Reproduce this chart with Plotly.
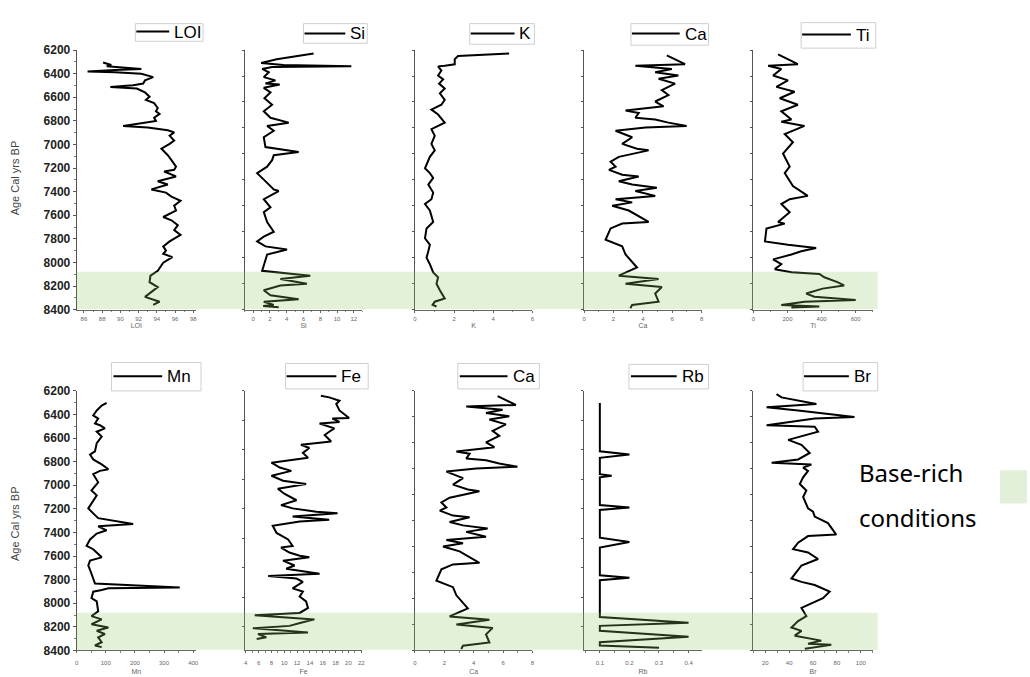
import plotly.graph_objects as go

W, H = 1030, 677

# ---- data: (age cal yrs BP, value) per proxy ----
LOI_AGE = [6305, 6327, 6338, 6360, 6368, 6382, 6388, 6401, 6429, 6457, 6484, 6498, 6512, 6526, 6559, 6595,
           6622, 6650, 6691, 6719, 6741, 6774, 6801, 6843, 6857, 6879, 6898, 6926, 6967, 6995, 7036, 7091,
           7133, 7188, 7215, 7229, 7271, 7312, 7340, 7381, 7408, 7442, 7477, 7519, 7560, 7615, 7643, 7684,
           7726, 7767, 7822, 7864, 7900, 7927, 7955, 8002, 8071, 8112, 8167, 8209, 8292, 8333, 8360]
LOI_VAL = [88.1, 89.0, 88.5, 92.3, 89.4, 86.4, 89.4, 92.3, 93.6, 92.7, 92.5, 91.4, 88.9, 91.8, 92.7, 93.2,
           92.8, 93.7, 94.1, 93.9, 94.3, 93.7, 93.9, 90.3, 93.0, 95.2, 95.9, 95.4, 95.9, 95.4, 94.5, 95.2,
           95.6, 96.1, 95.9, 94.8, 96.1, 94.1, 95.2, 93.4, 95.0, 95.6, 96.6, 95.9, 96.1, 94.7, 95.6, 96.3,
           95.9, 96.6, 95.4, 94.7, 95.0, 94.7, 95.7, 94.7, 94.1, 93.3, 93.2, 94.1, 92.7, 94.3, 93.6]

SI_AGE = [6228, 6244, 6277, 6310, 6327, 6338, 6343, 6360, 6388, 6429, 6457, 6484, 6492, 6520, 6559, 6608,
          6663, 6719, 6774, 6815, 6843, 6884, 6939, 7022, 7064, 7091, 7133, 7188, 7243, 7298, 7381, 7395,
          7464, 7533, 7574, 7657, 7740, 7781, 7822, 7864, 7891, 7933, 8015, 8071, 8112, 8140, 8181, 8195,
          8236, 8278, 8313, 8333, 8360, 8369, 8380]
SI_VAL = [7.2, 5.6, 2.8, 0.95, 3.6, 11.7, 2.25, 1.07, 1.86, 1.26, 2.65, 1.46, 3.16, 1.26, 2.06, 1.34,
          2.25, 1.26, 2.06, 4.23, 1.66, 2.45, 1.26, 1.46, 5.42, 2.45, 2.25, 1.66, 0.47, 1.26, 2.45, 3.04,
          1.26, 2.06, 1.26, 1.66, 2.45, 1.26, 0.47, 1.46, 4.03, 1.66, 1.26, 1.07, 6.8, 3.24, 6.4, 3.24,
          1.26, 2.06, 5.42, 1.26, 2.45, 1.19, 3.04]

K_AGE = [6228, 6250, 6277, 6321, 6332, 6338, 6374, 6415, 6448, 6484, 6526, 6567, 6622, 6663, 6705, 6746,
         6815, 6870, 6926, 6995, 7050, 7105, 7202, 7243, 7284, 7340, 7408, 7464, 7505, 7560, 7657, 7712,
         7795, 7850, 7905, 7960, 8015, 8084, 8126, 8181, 8236, 8305, 8333, 8360, 8374]
K_VAL = [4.81, 2.2, 2.03, 2.03, 1.52, 1.18, 1.35, 1.18, 1.44, 1.23, 1.52, 1.27, 1.52, 1.35, 0.84, 1.18,
         1.52, 0.84, 1.01, 0.84, 1.01, 0.76, 0.51, 0.76, 0.93, 0.68, 0.93, 0.84, 0.51, 0.76, 0.93, 0.59,
         0.51, 0.76, 0.68, 0.59, 0.76, 0.93, 1.18, 1.1, 1.27, 1.52, 1.01, 0.9, 1.1]

CA_AGE = [6244, 6277, 6319, 6332, 6360, 6388, 6415, 6443, 6484, 6539, 6581, 6636, 6677, 6713, 6733, 6774,
          6788, 6815, 6843, 6857, 6884, 6939, 6995, 7036, 7050, 7105, 7146, 7188, 7215, 7257, 7271, 7312,
          7340, 7367, 7395, 7436, 7464, 7491, 7519, 7560, 7657, 7671, 7712, 7808, 7864, 7933, 8043, 8112,
          8140, 8181, 8209, 8264, 8333, 8360, 8388]
CA_VAL = [5.63, 6.19, 6.87, 3.49, 5.97, 4.84, 6.42, 5.07, 6.19, 5.29, 5.74, 4.84, 5.41, 2.82, 3.72, 3.49,
          4.84, 5.74, 6.98, 4.17, 2.14, 3.27, 2.59, 3.6, 4.39, 2.36, 1.8, 2.14, 1.69, 2.59, 3.72, 2.36,
          3.27, 4.95, 3.49, 4.84, 2.14, 3.27, 1.91, 3.04, 4.39, 2.59, 1.8, 1.46, 2.59, 2.82, 3.6, 2.36,
          5.07, 2.82, 5.29, 4.84, 5.07, 3.27, 3.15]

TI_AGE = [6236, 6319, 6332, 6360, 6415, 6457, 6512, 6553, 6608, 6663, 6719, 6788, 6807, 6843, 6912, 6981,
          7077, 7188, 7243, 7353, 7436, 7464, 7505, 7574, 7657, 7671, 7712, 7822, 7850, 7877, 7905, 7933,
          7974, 8015, 8057, 8084, 8098, 8126, 8167, 8195, 8222, 8264, 8291, 8319, 8333, 8360, 8374, 8382]
TI_VAL = [145, 261, 87, 164, 116, 203, 135, 242, 155, 261, 164, 223, 164, 300, 184, 232,
          174, 213, 184, 232, 319, 213, 164, 213, 145, 184, 77, 68, 203, 368, 281, 223,
          116, 164, 126, 223, 387, 416, 493, 532, 406, 310, 358, 600, 300, 164, 387, 223]

MN_AGE = [6302, 6325, 6366, 6408, 6435, 6477, 6491, 6518, 6546, 6587, 6643, 6712, 6740, 6781, 6823, 6864,
          6878, 6906, 6975, 7044, 7085, 7155, 7196, 7238, 7279, 7329, 7348, 7382, 7409, 7459, 7514, 7542,
          7611, 7639, 7680, 7750, 7833, 7866, 7874, 7888, 7902, 7957, 7985, 8068, 8109, 8137, 8178, 8206,
          8234, 8261, 8289, 8331, 8358, 8372]
MN_VAL = [103, 86, 69, 57, 74, 63, 80, 97, 69, 86, 69, 63, 46, 57, 86, 109,
          80, 57, 74, 51, 69, 51, 40, 57, 74, 194, 74, 103, 69, 46, 34, 57,
          86, 46, 40, 51, 63, 354, 109, 86, 57, 51, 69, 74, 51, 86, 51, 109,
          69, 97, 74, 86, 63, 86]

FE_AGE = [6241, 6255, 6283, 6311, 6366, 6430, 6435, 6463, 6477, 6518, 6546, 6574, 6629, 6657, 6684, 6726,
          6767, 6809, 6850, 6878, 6919, 6961, 6989, 7030, 7072, 7127, 7168, 7196, 7224, 7238, 7265, 7293,
          7307, 7343, 7404, 7459, 7514, 7528, 7570, 7597, 7611, 7639, 7680, 7708, 7750, 7769, 7791, 7819,
          7874, 7902, 7943, 7985, 8040, 8082, 8101, 8137, 8165, 8192, 8212, 8248, 8261, 8289, 8303]
FE_VAL = [15.7, 17.0, 18.6, 18.1, 18.6, 20.1, 17.5, 18.6, 15.5, 17.8, 17.0, 16.3, 17.3, 12.6, 13.9, 12.9,
          13.7, 8.0, 9.3, 11.1, 8.0, 9.8, 13.4, 9.0, 10.0, 11.9, 9.5, 11.3, 15.0, 18.3, 11.3, 17.0,
          12.4, 8.2, 8.8, 10.6, 11.3, 9.5, 10.8, 12.4, 13.9, 9.8, 11.6, 10.3, 15.5, 7.5, 11.9, 12.9,
          11.3, 12.9, 12.4, 13.4, 13.7, 12.4, 5.4, 14.7, 12.6, 10.8, 5.1, 13.7, 5.9, 7.2, 5.7]

RB_AGE = [6302, 6712, 6740, 6767, 6906, 6919, 6933, 7168, 7188, 7210, 7445, 7481, 7528, 7763, 7783, 7805,
          8117, 8165, 8192, 8234, 8284, 8331, 8358, 8378]
RB_VAL = [0.1, 0.1, 0.2, 0.1, 0.1, 0.14, 0.1, 0.1, 0.2, 0.1, 0.1, 0.2, 0.1, 0.1, 0.2, 0.1,
          0.1, 0.4, 0.1, 0.1, 0.4, 0.1, 0.1, 0.3]

BR_AGE = [6228, 6255, 6311, 6338, 6366, 6421, 6435, 6491, 6504, 6546, 6615, 6657, 6726, 6781, 6810, 6824,
          6850, 6878, 6933, 6989, 7044, 7099, 7196, 7224, 7265, 7321, 7418, 7431, 7487, 7542, 7570, 7625,
          7680, 7791, 7819, 7846, 7902, 7957, 8040, 8109, 8151, 8206, 8234, 8275, 8317, 8344, 8353, 8367, 8386]
BR_VAL = [29.4, 33.6, 62.8, 21.1, 47.5, 94.7, 61.4, 21.1, 61.4, 64.2, 39.2, 50.3, 57.2, 47.5, 25.3, 58.6,
          51.7, 55.8, 51.7, 48.9, 54.4, 51.7, 55.8, 60.0, 61.4, 72.5, 79.4, 55.8, 47.5, 43.3, 55.8, 64.2,
          50.3, 41.9, 50.3, 61.4, 73.9, 68.3, 50.3, 54.4, 47.5, 41.9, 50.3, 44.7, 66.9, 55.8, 75.3, 64.2, 53.1]

BASE_RICH = (8080, 8395)
AGE_RANGE = (6200, 8400)

# panel definitions: name, ages, values, x range, x ticks, y tick spacing
PANELS = [
    ("LOI", LOI_AGE, LOI_VAL, (85.2, 98.3), (86, 2, 1), 200),
    ("Si", SI_AGE, SI_VAL, (-1, 13), (0, 2, 1), 220),
    ("K", K_AGE, K_VAL, (0, 6), (0, 2, 1), 220),
    ("Ca", CA_AGE, CA_VAL, (0, 8), (0, 2, 1), 220),
    ("Ti", TI_AGE, TI_VAL, (0, 700), (0, 200, 100), 220),
    ("Mn", MN_AGE, MN_VAL, (0, 410), (0, 100, 50), 200),
    ("Fe", FE_AGE, FE_VAL, (3.85, 22.15), (4, 2, 1), 250),
    ("Ca", CA_AGE, CA_VAL, (0, 8), (0, 2, 1), 220),
    ("Rb", RB_AGE, RB_VAL, (0.047, 0.444), (0.1, 0.1, 0.05), 250),
    ("Br", BR_AGE, BR_VAL, (10, 110), (20, 20, 10), 220),
]

COL_PX = [(75, 195), (244, 362), (415, 533), (585, 703), (755, 875)]
ROW_PX = [(44, 309), (392, 657)]


def fx(p):
    return p / W


def fy(p):
    return 1 - p / H


fig = go.Figure()
layout = dict(
    width=W, height=H,
    margin=dict(l=0, r=0, t=0, b=0),
    paper_bgcolor="white", plot_bgcolor="white",
    showlegend=False,
    font=dict(family="Liberation Sans", color="#222"),
)

shapes = []
annotations = []

for i, (name, ages, vals, xr, (t0, dt, mdt), ydt) in enumerate(PANELS):
    row, col = divmod(i, 5)
    n = i + 1
    xa, ya = f"xaxis{n}", f"yaxis{n}"
    xref, yref = ("x" if n == 1 else f"x{n}"), ("y" if n == 1 else f"y{n}")
    fig.add_trace(go.Scatter(
        x=vals, y=ages, mode="lines", xaxis=xref, yaxis=yref,
        line=dict(color="black", width=2), hoverinfo="skip",
    ))
    c0, c1 = COL_PX[col]
    r0, r1 = ROW_PX[row]
    layout[xa] = dict(
        domain=[fx(c0), fx(c1)], anchor=yref, range=list(xr),
        showline=True, linecolor="#666", linewidth=1, showgrid=False, zeroline=False,
        ticks="outside", ticklen=2, tickcolor="#666", tick0=t0, dtick=dt,
        minor=dict(ticks="outside", ticklen=1.5, tickcolor="#888", dtick=mdt, tick0=t0),
        tickfont=dict(size=6, color="#666"),
        ticklabelstandoff=1 if row == 0 else 4,
        title=dict(text=name, font=dict(size=7, color="#666"),
                   standoff=2 if row == 0 else 4),
    )
    first = col == 0
    layout[ya] = dict(
        domain=[fy(r1), fy(r0)], anchor=xref, range=[AGE_RANGE[1], AGE_RANGE[0]],
        showline=True, linecolor="#555", linewidth=1, showgrid=False, zeroline=False,
        ticks="outside", ticklen=3 if first else 2, tickcolor="#555",
        tick0=AGE_RANGE[0], dtick=ydt,
        showticklabels=first,
        tickfont=dict(size=12, color="#222", weight="bold"),
    )
    if first:
        layout[ya]["minor"] = dict(ticks="outside", ticklen=2, tickcolor="#777", dtick=100)

# base-rich shading across each row
for row, yref in ((0, "y"), (1, "y6")):
    shapes.append(dict(
        type="rect", xref="paper", yref=yref,
        x0=fx(75), x1=fx(880), y0=BASE_RICH[0], y1=BASE_RICH[1],
        fillcolor="rgba(140,200,100,0.25)", line=dict(width=0), layer="above",
    ))

# y-axis titles
for yc in (174, 527):
    annotations.append(dict(
        text="Age Cal yrs BP", x=fx(13), y=fy(yc), xref="paper", yref="paper",
        textangle=-90, showarrow=False, font=dict(size=11, color="#444"),
        xanchor="center", yanchor="middle",
    ))

# legend boxes: (label, box x0, x1, y0, y1, line x0, x1, line y)
LEGENDS = [
    ("LOI", 134, 202, 17, 35, 135, 168, 25),
    ("Si", 303, 367, 17, 37, 304, 345, 27),
    ("K", 470, 535, 17, 38, 471, 515, 27),
    ("Ca", 632, 710, 17, 39, 633, 681, 27),
    ("Ti", 803, 878, 16, 42, 804, 853, 28),
    ("Mn", 110, 200, 363, 392, 112, 161, 377),
    ("Fe", 285, 368, 364, 390, 286, 336, 377),
    ("Ca", 458, 540, 364, 390, 460, 508, 377),
    ("Rb", 630, 710, 365, 390, 632, 678, 377),
    ("Br", 805, 880, 363, 392, 806, 851, 377),
]
for lab, bx0, bx1, by0, by1, lx0, lx1, ly in LEGENDS:
    shapes.append(dict(type="rect", xref="paper", yref="paper",
                       x0=fx(bx0), x1=fx(bx1), y0=fy(by1), y1=fy(by0),
                       fillcolor="white", line=dict(color="#cfcfcf", width=1)))
    shapes.append(dict(type="line", xref="paper", yref="paper",
                       x0=fx(lx0), x1=fx(lx1), y0=fy(ly), y1=fy(ly),
                       line=dict(color="black", width=2)))
    annotations.append(dict(text=lab, x=fx(lx1 + 3), y=fy((by0 + by1) / 2),
                            xref="paper", yref="paper", showarrow=False,
                            xanchor="left", yanchor="middle",
                            font=dict(size=17, color="black")))

# key for the shading
annotations.append(dict(text="Base-rich", x=fx(859), y=fy(475), xref="paper", yref="paper",
                        showarrow=False, xanchor="left", yanchor="middle",
                        font=dict(family="Noto Sans", size=24, color="black")))
annotations.append(dict(text="conditions", x=fx(859), y=fy(521), xref="paper", yref="paper",
                        showarrow=False, xanchor="left", yanchor="middle",
                        font=dict(family="Noto Sans", size=24, color="black")))
shapes.append(dict(type="rect", xref="paper", yref="paper",
                   x0=fx(1003), x1=fx(1030), y0=fy(507), y1=fy(473),
                   fillcolor="#e2efd9", line=dict(width=0)))

layout["shapes"] = shapes
layout["annotations"] = annotations
fig.update_layout(**layout)
fig.write_html("out.html")
